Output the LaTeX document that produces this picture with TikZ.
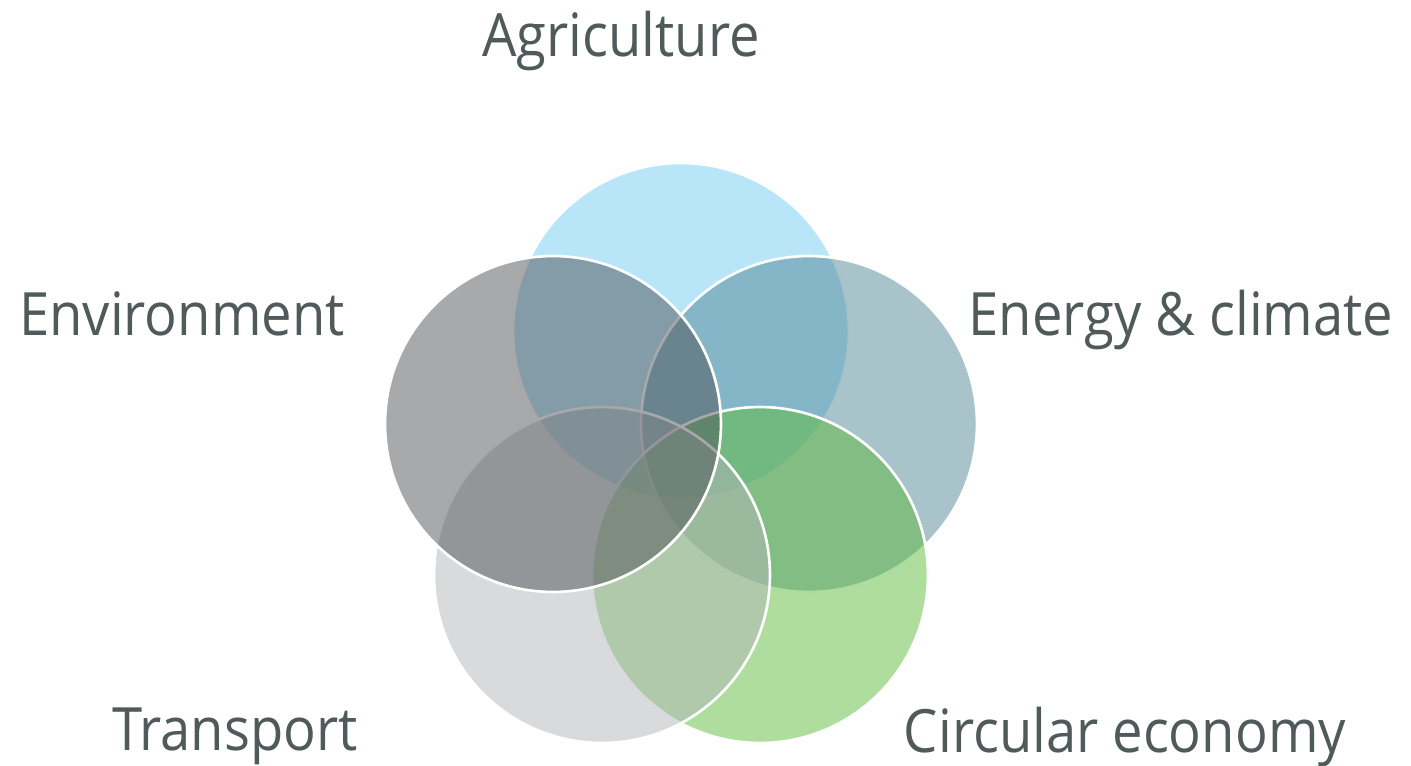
\documentclass[tikz,border=0pt]{standalone}
\usepackage{fontspec}
\setmainfont[FakeStretch=0.91]{Open Sans}
\usepackage{tikz}
\usetikzlibrary{shapes}
\definecolor{agricol}{HTML}{71CDF2}
\definecolor{energycol}{HTML}{538797}
\definecolor{circcol}{HTML}{5DBB3D}
\definecolor{transcol}{HTML}{B3B5B9}
\definecolor{envcol}{HTML}{4F5357}
\definecolor{labelcol}{HTML}{505A5A}
\tikzstyle{set} = [circle, draw=white, line width=1.5pt, fill opacity=0.5,
    minimum size=6.72cm, inner sep=0pt]
\tikzstyle{label} = [text=labelcol, inner sep=0pt, anchor=base,
    font=\fontsize{34}{40}\selectfont]

\begin{document}
\begin{tikzpicture}[x=0.02cm, y=-0.02cm]
        \useasboundingbox (0,0) rectangle (1411,765);
        % Place sets
        \node [set, fill=agricol] (agri) at (681,331) {};
        \node [set, fill=energycol] (energy) at (809,424) {};
        \node [set, fill=circcol] (circ) at (760,575) {};
        \node [set, fill=transcol] (trans) at (602,575) {};
        \node [set, fill=envcol] (env) at (553,424) {};
        % Set labels
        \node [label] (agri_label) at (621,56) {Agriculture};
        \node [label] (energy_label) at (1181,335) {Energy \& climate};
        \node [label] (circ_label) at (1125,752) {Circular economy};
        \node [label] (trans_label) at (235,750) {Transport};
        \node [label] (env_label) at (182,335) {Environment};
    \end{tikzpicture}
\end{document}
